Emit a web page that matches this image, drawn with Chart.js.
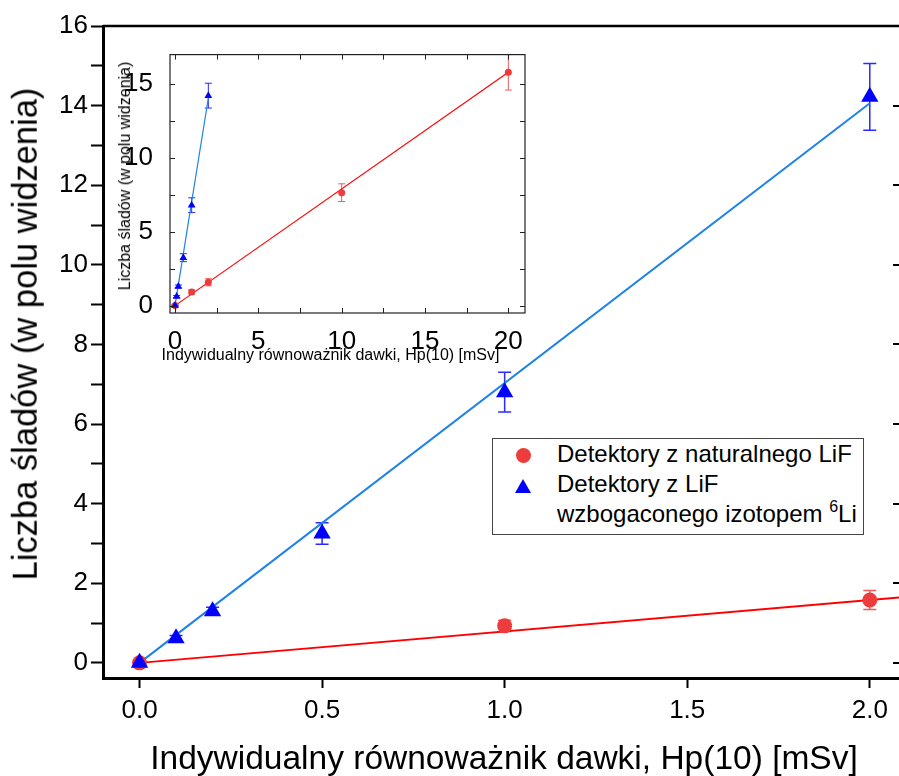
<!DOCTYPE html>
<html><head><meta charset="utf-8">
<script src="https://cdn.jsdelivr.net/npm/chart.js@4.4.0/dist/chart.umd.min.js"></script>
<style>
html,body{margin:0;padding:0;background:#fff;}
#wrap{position:relative;width:899px;height:776px;overflow:hidden;font-family:"Liberation Sans",Arial,sans-serif;color:#000;}
canvas{position:absolute;}
.t{position:absolute;white-space:nowrap;line-height:1;transform:translate(-50%,-50%);}
.r{transform:translate(-50%,-50%) rotate(-90deg);}
#legend{position:absolute;left:492px;top:438px;width:372px;height:97px;box-sizing:border-box;border:1px solid #444;background:#fff;font-size:24px;line-height:30px;}
#legend .row{position:relative;padding-left:64px;height:30px;white-space:nowrap;}
.mk-c{position:absolute;left:23px;top:9px;width:15px;height:15px;border-radius:50%;background:#ee3b3b;}
.mk-t{position:absolute;left:22px;top:10px;width:0;height:0;border-left:8.5px solid transparent;border-right:8.5px solid transparent;border-bottom:14px solid #0000ff;}
</style></head><body>
<div id="wrap">
<canvas id="main" width="899" height="776" style="left:0;top:0"></canvas>
<canvas id="inset" width="430" height="345" style="left:110px;top:30px"></canvas>
<div class="t r" style="left:25px;top:333.5px;font-size:34.5px">Liczba śladów (w polu widzenia)</div>
<div class="t" style="left:504px;top:758px;font-size:33.5px">Indywidualny równoważnik dawki, Hp(10) [mSv]</div>
<div class="t r" style="left:125px;top:176px;font-size:16px">Liczba śladów (w polu widzenia)</div>
<div class="t" style="left:330.5px;top:355px;font-size:16px">Indywidualny równoważnik dawki, Hp(10) [mSv]</div>
<div id="legend">
  <div class="row"><span class="mk-c"></span>Detektory z naturalnego LiF</div>
  <div class="row"><span class="mk-t"></span>Detektory z LiF</div>
  <div class="row">wzbogaconego izotopem <span style="font-size:16px;line-height:1;position:relative;top:-10px">6</span>Li</div>
</div>
</div>
<script>
// ---- data ----
const redX = [0, 1, 2, 10, 20];
const redY = [0, 0.93, 1.58, 7.65, 15.8];
const redErr = [0.03, 0.14, 0.24, 0.6, 1.2];
const blueX = [0, 0.1, 0.2, 0.5, 1, 2];
const blueY = [0, 0.62, 1.3, 3.25, 6.8, 14.22];
const blueErr = [0.04, 0.07, 0.1, 0.27, 0.5, 0.84];
const redFitX = [0, 20];
const blueFitX = [0, 2];
const redSlope = 0.79;
const blueSlope = 7.03;
// ---- ticks ----
const mainXTicks = [0, 0.5, 1.0, 1.5, 2.0];
const mainYTicks = [0,1,2,3,4,5,6,7,8,9,10,11,12,13,14,15,16];
const mainYLabels = [0,2,4,6,8,10,12,14,16];
const insetXLabels = [0,5,10,15,20];
const insetXMinor = [0,2.5,5,7.5,10,12.5,15,17.5,20];
const insetYLabels = [0,5,10,15];
const insetYMinor = [0,2.5,5,7.5,10,12.5,15];

const FONT = '"Liberation Sans", Arial, sans-serif';
const pts = (xs, ys) => xs.map((v,i)=>({x:v, y:ys[i]}));
const fit = (xs, k) => xs.map(v=>({x:v, y:k*v}));

const errorBars = {
  id:'errorBars',
  beforeDatasetsDraw(chart, args, opts){
    const {ctx, chartArea:a, scales:{x,y}} = chart;
    ctx.save();
    ctx.beginPath(); ctx.rect(a.left, a.top-20, a.right-a.left, a.bottom-a.top+20); ctx.clip();
    chart.data.datasets.forEach(ds=>{
      if(!ds.errors) return;
      ctx.strokeStyle = ds.errorColor; ctx.lineWidth = opts.width;
      ds.data.forEach((p,i)=>{
        const e = ds.errors[i]; if(!e) return;
        const px = x.getPixelForValue(p.x);
        if (px < a.left-20 || px > a.right+20) return;
        const y1 = y.getPixelForValue(p.y+e), y2 = y.getPixelForValue(p.y-e);
        ctx.beginPath();
        ctx.moveTo(px,y1); ctx.lineTo(px,y2);
        ctx.moveTo(px-opts.cap,y1); ctx.lineTo(px+opts.cap,y1);
        ctx.moveTo(px-opts.cap,y2); ctx.lineTo(px+opts.cap,y2);
        ctx.stroke();
      });
    });
    ctx.restore();
  }
};

const frameMain = {
  id:'frameMain',
  afterDraw(chart){
    const {ctx, chartArea:a, scales:{y}} = chart;
    ctx.save();
    ctx.strokeStyle='#000'; ctx.lineWidth=2.5;
    ctx.beginPath(); ctx.moveTo(a.left, a.top); ctx.lineTo(chart.width, a.top); ctx.stroke();
    ctx.lineWidth=2;
    mainYLabels.forEach(v=>{
      const py = Math.round(y.getPixelForValue(v));
      ctx.beginPath(); ctx.moveTo(a.right, py); ctx.lineTo(a.right-6, py); ctx.stroke();
    });
    ctx.restore();
  }
};

const insetFrame = {
  id:'insetFrame',
  afterDatasetsDraw(chart){
    const {ctx, chartArea:a, scales:{x,y}} = chart;
    ctx.save();
    ctx.strokeStyle='#222'; ctx.lineWidth=1.2;
    ctx.strokeRect(a.left, a.top, a.right-a.left, a.bottom-a.top);
    ctx.lineWidth=1;
    insetXMinor.forEach(v=>{
      const px = Math.round(x.getPixelForValue(v))+0.5;
      ctx.beginPath();
      ctx.moveTo(px, a.bottom); ctx.lineTo(px, a.bottom-5);
      ctx.moveTo(px, a.top); ctx.lineTo(px, a.top+5);
      ctx.stroke();
    });
    insetYMinor.forEach(v=>{
      const py = Math.round(y.getPixelForValue(v))+0.5;
      ctx.beginPath();
      ctx.moveTo(a.left, py); ctx.lineTo(a.left+5, py);
      ctx.moveTo(a.right, py); ctx.lineTo(a.right-5, py);
      ctx.stroke();
    });
    ctx.restore();
  }
};

Chart.defaults.font.family = FONT;
Chart.defaults.color = '#000';

new Chart(document.getElementById('main'), {
  type:'scatter',
  data:{datasets:[
    {label:'Detektory z LiF wzbogaconego izotopem 6Li', data:pts(blueX, blueY), errors:blueErr, errorColor:'#2a2aff',
     pointStyle:'triangle', pointRadius:10, backgroundColor:'#0000ff', borderColor:'#0000ff', borderWidth:0},
    {label:'Detektory z naturalnego LiF', data:pts(redX, redY), errors:redErr, errorColor:'#f05a5a',
     pointStyle:'circle', pointRadius:7.5, backgroundColor:'#ee3b3b', borderColor:'#ee3b3b', borderWidth:0},
    {label:'fit 6Li', data:fit(blueFitX, blueSlope), showLine:true, pointRadius:0, borderColor:'#1e82e6', borderWidth:2},
    {label:'fit nat', data:fit(redFitX, redSlope), showLine:true, pointRadius:0, borderColor:'#ff0000', borderWidth:2}
  ]},
  options:{
    responsive:false, animation:false, events:[],
    layout:{padding:{left:0,right:0,top:26,bottom:0}, autoPadding:false},
    plugins:{legend:{display:false}, tooltip:{enabled:false}, errorBars:{width:1.5, cap:6.5}},
    scales:{
      x:{type:'linear', min:-0.1, max:2.08,
        afterFit(s){ s.height = 98; },
        afterBuildTicks(s){ s.ticks = mainXTicks.map(v=>({value:v})); },
        ticks:{callback:v=>Number(v).toFixed(1), font:{size:26}, color:'#000', padding:7, maxRotation:0, autoSkip:false},
        grid:{drawOnChartArea:false, drawTicks:true, tickLength:10, tickWidth:2, tickColor:'#000'},
        border:{display:true, width:3, color:'#000'}},
      y:{type:'linear', min:-0.38, max:16,
        afterFit(s){ s.width = 103; },
        afterBuildTicks(s){ s.ticks = mainYTicks.map(v=>({value:v})); },
        ticks:{callback:v=>mainYLabels.includes(v)?String(v):'', font:{size:26}, color:'#000', padding:3, autoSkip:false},
        grid:{drawOnChartArea:false, drawTicks:true, tickLength:12, tickWidth:2, tickColor:'#000'},
        border:{display:true, width:3, color:'#000'}}
    }
  },
  plugins:[errorBars, frameMain]
});

new Chart(document.getElementById('inset'), {
  type:'scatter',
  data:{datasets:[
    {label:'6Li', data:pts(blueX, blueY), errors:blueErr, errorColor:'#2a2aff',
     pointStyle:'triangle', pointRadius:4.5, backgroundColor:'#0000ff', borderColor:'#0000ff', borderWidth:0},
    {label:'nat', data:pts(redX, redY), errors:redErr, errorColor:'#f05a5a',
     pointStyle:'circle', pointRadius:3.5, backgroundColor:'#ee3b3b', borderColor:'#ee3b3b', borderWidth:0},
    {label:'fit 6Li', data:fit(blueFitX, blueSlope), showLine:true, pointRadius:0, borderColor:'#1e82e6', borderWidth:1.2},
    {label:'fit nat', data:fit(redFitX, redSlope), showLine:true, pointRadius:0, borderColor:'#ff0000', borderWidth:1.2}
  ]},
  options:{
    responsive:false, animation:false, events:[],
    layout:{padding:{left:0,right:15,top:10,bottom:0}, autoPadding:false},
    plugins:{legend:{display:false}, tooltip:{enabled:false}, errorBars:{width:1, cap:3.5}},
    scales:{
      x:{type:'linear', min:-0.3, max:21,
        afterFit(s){ s.height = 62; },
        afterBuildTicks(s){ s.ticks = insetXLabels.map(v=>({value:v})); },
        ticks:{font:{size:26}, color:'#000', padding:5, maxRotation:0, autoSkip:false},
        grid:{display:false}, border:{display:false}},
      y:{type:'linear', min:-0.5, max:17,
        afterFit(s){ s.width = 60; },
        afterBuildTicks(s){ s.ticks = insetYLabels.map(v=>({value:v})); },
        ticks:{font:{size:26}, color:'#000', padding:9, autoSkip:false},
        grid:{display:false}, border:{display:false}}
    }
  },
  plugins:[errorBars, insetFrame]
});
</script>
</body></html>
